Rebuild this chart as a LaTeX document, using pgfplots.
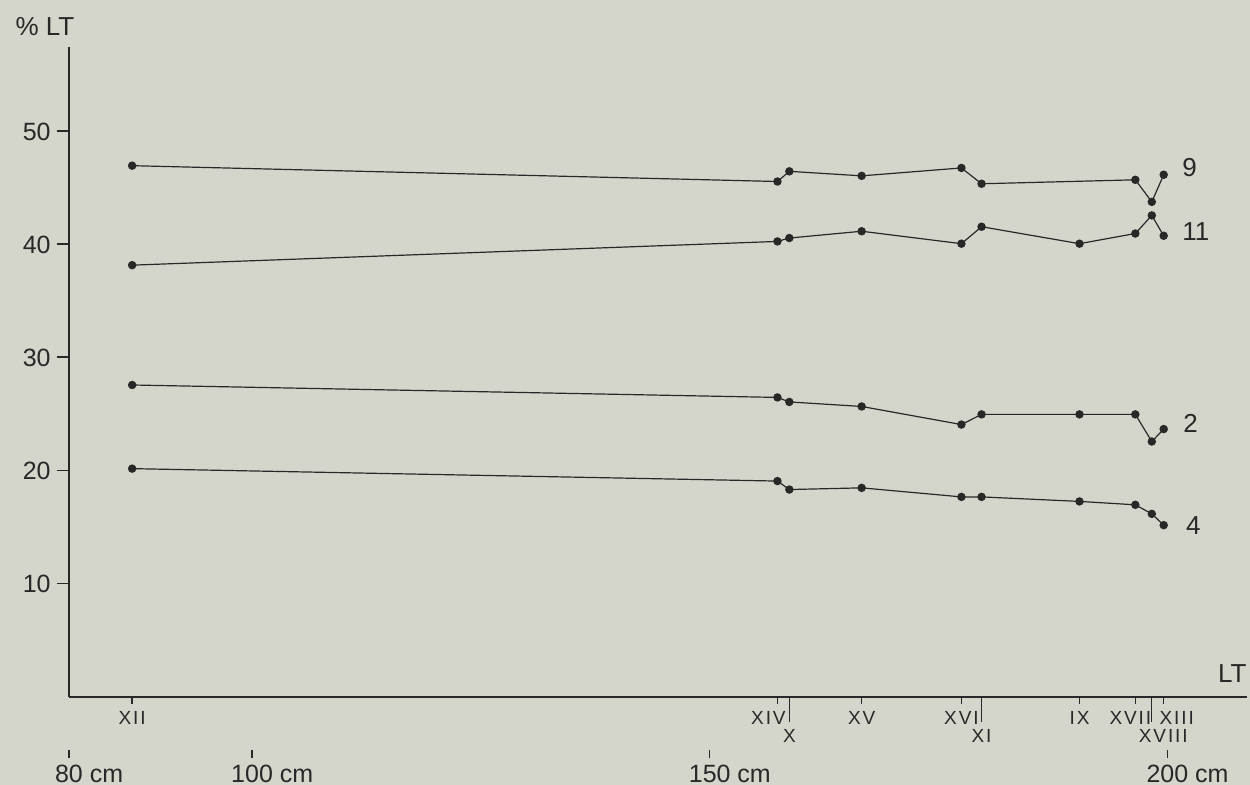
\documentclass[border=0pt]{standalone}
\usepackage{fontspec}
\setmainfont{Liberation Sans}
\newfontfamily\romfont[LetterSpace=10]{Liberation Sans}
\usepackage{pgfplots}
\pgfplotsset{compat=1.18}
\definecolor{bg}{RGB}{212,214,204}
\definecolor{ink}{RGB}{40,40,40}
\newcommand{\tk}{\hspace{3pt}{\color{ink}\rule[4.1pt]{6pt}{0.9pt}}}
\begin{document}
\begin{tikzpicture}
\path[use as bounding box, fill=bg] (-34.5pt,-44pt) rectangle (590.5pt,348.5pt);
\pgfplotsset{
  base/.style={at={(0pt,0pt)}, anchor=south west, scale only axis,
    width=589pt, height=325pt, xmin=80, xmax=208.7, ymin=0, ymax=57.5},
}
\begin{axis}[base, axis x line=bottom, axis y line=left, axis line style={-, ink, line width=0.8pt},
  xtick=\empty, ytick={10,20,30,40,50}, yticklabels={10\tk,20\tk,30\tk,40\tk,50\tk},
  major tick length=0pt, ytick style={draw=none},
  yticklabel style={font=\fontsize{12.5}{14}\selectfont, text=ink, anchor=east, inner sep=0pt},
  clip=false]
\addplot[ink, line width=0.6pt, mark=*, mark size=1.8pt] coordinates {
 (86.9,47.0) (157.4,45.6) (158.7,46.5) (166.6,46.1) (177.5,46.8) (179.7,45.4) (196.5,45.75) (198.3,43.8) (199.6,46.2)};
\addplot[ink, line width=0.6pt, mark=*, mark size=1.8pt] coordinates {
 (86.9,38.2) (157.4,40.3) (158.7,40.6) (166.6,41.2) (177.5,40.1) (179.7,41.6) (190.4,40.1) (196.5,41.0) (198.3,42.6) (199.6,40.8)};
\addplot[ink, line width=0.6pt, mark=*, mark size=1.8pt] coordinates {
 (86.9,27.6) (157.4,26.5) (158.7,26.1) (166.6,25.7) (177.5,24.1) (179.7,25.0) (190.4,25.0) (196.5,25.0) (198.3,22.6) (199.6,23.7)};
\addplot[ink, line width=0.6pt, mark=*, mark size=1.8pt] coordinates {
 (86.9,20.2) (157.4,19.1) (158.7,18.35) (166.6,18.5) (177.5,17.7) (179.7,17.7) (190.4,17.3) (196.5,17.0) (198.3,16.2) (199.6,15.2)};
\node[anchor=west, font=\fontsize{13}{14}\selectfont, text=ink, inner sep=0pt] at (axis cs:201.6,46.8) {9};
\node[anchor=west, font=\fontsize{13}{14}\selectfont, text=ink, inner sep=0pt] at (axis cs:201.6,41.2) {11};
\node[anchor=west, font=\fontsize{13}{14}\selectfont, text=ink, inner sep=0pt] at (axis cs:201.7,24.2) {2};
\node[anchor=west, font=\fontsize{13}{14}\selectfont, text=ink, inner sep=0pt] at (axis cs:202.0,15.2) {4};
\node[font=\fontsize{13}{14}\selectfont, text=ink] at ([xshift=-12pt, yshift=10pt]rel axis cs:0,1) {\% LT};
\node[anchor=base east, font=\fontsize{13}{14}\selectfont, text=ink, inner sep=0pt] at ([yshift=7pt]rel axis cs:1,0) {LT};
\end{axis}
% first row of specimen labels
\begin{axis}[base, hide y axis, axis x line*=bottom, x axis line style={draw=none},
  xtick={86.9,157.4,166.6,177.5,190.4,196.5,199.6},
  xticklabels={XII,\hspace*{-9pt}XIV,XV,XVI,IX,\hspace*{-5pt}XVII,\hspace*{13pt}XIII},
  tick align=outside, major tick length=3.5pt, tick style={draw=ink, line width=0.7pt},
  xticklabel style={font=\romfont\fontsize{9.5}{10}\selectfont, text=ink}]
\end{axis}
% second row of specimen labels
\begin{axis}[base, hide y axis, axis x line*=bottom, x axis line style={draw=none},
  xtick={158.7,179.7,198.3},
  xticklabels={X,XI,\hspace*{11.5pt}XVIII},
  tick align=outside, major tick length=12.5pt, tick style={draw=ink, line width=0.5pt},
  xticklabel style={font=\romfont\fontsize{9.5}{10}\selectfont, text=ink}]
\end{axis}
% length scale in cm
\begin{axis}[at={(0pt,-26.5pt)}, anchor=south west, scale only axis, width=589pt, height=1pt,
  xmin=80, xmax=208.7, ymin=0, ymax=1,
  hide y axis, axis x line*=bottom, x axis line style={draw=none},
  xtick={80,100,150,200},
  xticklabels={\hphantom{ cm}80 cm,\hphantom{ cm}100 cm,\hphantom{ cm}150 cm,\hphantom{ cm}200 cm},
  tick align=outside, major tick length=4pt, tick style={draw=ink, line width=0.6pt},
  xticklabel style={font=\fontsize{12.5}{14}\selectfont, text=ink}]
\end{axis}
\end{tikzpicture}
\end{document}
